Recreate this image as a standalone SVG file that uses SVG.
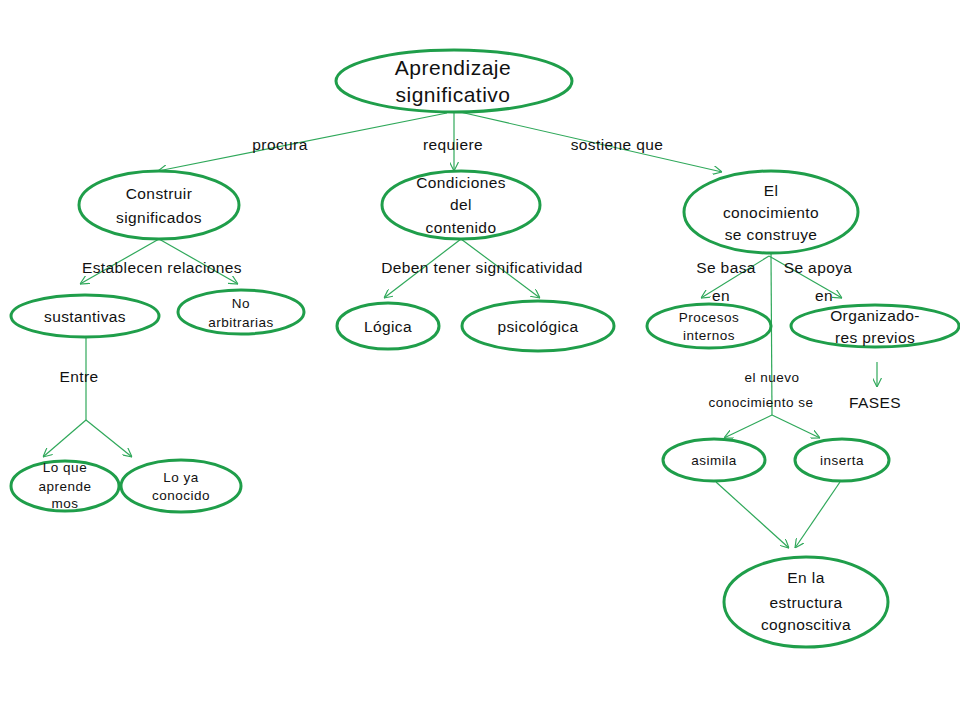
<svg xmlns="http://www.w3.org/2000/svg" width="960" height="720" viewBox="0 0 960 720">
<defs>
<marker id="arr" viewBox="0 0 10 10" refX="10" refY="5" markerWidth="9" markerHeight="9" markerUnits="userSpaceOnUse" orient="auto">
<path d="M0,0 L10,5 L0,10" fill="none" stroke="#2fa85a" stroke-width="1.3"/>
</marker>
</defs>
<style>
.n{fill:#fff;stroke:#1f9e4a;stroke-width:3}
.c{stroke:#2fa85a;stroke-width:1.2;fill:none}
.a{marker-end:url(#arr)}
text{font-family:"Liberation Sans",Arial,sans-serif;fill:#111;text-anchor:middle}
.f20{font-size:21px;letter-spacing:0.5px}
.f15{font-size:15.5px;letter-spacing:0.4px}
.f12{font-size:13.5px;letter-spacing:0.5px}
</style>
<rect width="960" height="720" fill="#fff"/>
<g id="connectors">
<line class="c a" x1="447" y1="113" x2="158" y2="171"/>
<line class="c a" x1="454" y1="112" x2="454" y2="171"/>
<line class="c a" x1="460" y1="112" x2="722" y2="172"/>
<line class="c a" x1="159" y1="239" x2="80" y2="284"/>
<line class="c a" x1="159" y1="239" x2="238" y2="284"/>
<line class="c a" x1="461" y1="239" x2="384" y2="298"/>
<line class="c a" x1="461" y1="239" x2="540" y2="298"/>
<line class="c a" x1="769" y1="256" x2="701" y2="298"/>
<line class="c a" x1="769" y1="256" x2="842" y2="298"/>
<line class="c" x1="771" y1="253" x2="772" y2="415"/>
<line class="c a" x1="772" y1="415" x2="724" y2="438"/>
<line class="c a" x1="772" y1="415" x2="820" y2="438"/>
<line class="c a" x1="877" y1="362" x2="877" y2="387"/>
<line class="c a" x1="716" y1="482" x2="789" y2="548"/>
<line class="c a" x1="840" y1="482" x2="795" y2="548"/>
<line class="c" x1="86" y1="338" x2="86" y2="420"/>
<line class="c a" x1="86" y1="420" x2="43" y2="457"/>
<line class="c a" x1="86" y1="420" x2="132" y2="457"/>
</g>
<g id="labels">
<text class="f15" x="280" y="150">procura</text>
<text class="f15" x="453" y="150">requiere</text>
<text class="f15" x="617" y="150">sostiene que</text>
<text class="f15" x="162" y="273">Establecen relaciones</text>
<text class="f15" x="482" y="273">Deben tener significatividad</text>
<text class="f15" x="726" y="273">Se basa</text>
<text class="f15" x="818" y="273">Se apoya</text>
<text class="f15" x="721" y="301">en</text>
<text class="f15" x="824" y="301">en</text>
<text class="f15" x="79" y="382">Entre</text>
<text class="f12" x="772" y="382">el nuevo</text>
<text class="f12" x="761" y="407">conocimiento se</text>
<text class="f15" x="875" y="408">FASES</text>
</g>
<g id="n-aprendizaje">
<ellipse class="n" cx="454" cy="81" rx="118" ry="31"/>
<text class="f20" x="453" y="75">Aprendizaje</text>
<text class="f20" x="453" y="102">significativo</text>
</g>
<g id="n-construir">
<ellipse class="n" cx="159" cy="205" rx="80" ry="34"/>
<text class="f15" x="159" y="199">Construir</text>
<text class="f15" x="159" y="223">significados</text>
</g>
<g id="n-condiciones">
<ellipse class="n" cx="461" cy="205" rx="79" ry="34"/>
<text class="f15" x="461" y="188">Condiciones</text>
<text class="f15" x="461" y="210">del</text>
<text class="f15" x="461" y="233">contenido</text>
</g>
<g id="n-conocimiento">
<ellipse class="n" cx="771" cy="212" rx="87" ry="41"/>
<text class="f15" x="771" y="196">El</text>
<text class="f15" x="771" y="218">conocimiento</text>
<text class="f15" x="771" y="240">se construye</text>
</g>
<g id="n-sustantivas">
<ellipse class="n" cx="85" cy="316" rx="74" ry="21"/>
<text class="f15" x="85" y="322">sustantivas</text>
</g>
<g id="n-noarbitrarias">
<ellipse class="n" cx="241" cy="312" rx="63" ry="22"/>
<text class="f12" x="241" y="308">No</text>
<text class="f12" x="241" y="327">arbitrarias</text>
</g>
<g id="n-logica">
<ellipse class="n" cx="388" cy="326" rx="51" ry="23"/>
<text class="f15" x="388" y="332">Lógica</text>
</g>
<g id="n-psicologica">
<ellipse class="n" cx="538" cy="326" rx="76" ry="25"/>
<text class="f15" x="538" y="332">psicológica</text>
</g>
<g id="n-procesos">
<ellipse class="n" cx="709" cy="326" rx="62" ry="22"/>
<text class="f12" x="709" y="322">Procesos</text>
<text class="f12" x="709" y="340">internos</text>
</g>
<g id="n-organizadores">
<ellipse class="n" cx="875" cy="326" rx="84" ry="21"/>
<text class="f15" x="875" y="321">Organizado-</text>
<text class="f15" x="875" y="343">res previos</text>
</g>
<g id="n-loque">
<ellipse class="n" cx="65" cy="486" rx="54" ry="25"/>
<text class="f12" x="65" y="472">Lo que</text>
<text class="f12" x="65" y="491">aprende</text>
<text class="f12" x="65" y="508">mos</text>
</g>
<g id="n-loya">
<ellipse class="n" cx="181" cy="486" rx="60" ry="26"/>
<text class="f12" x="181" y="482">Lo ya</text>
<text class="f12" x="181" y="500">conocido</text>
</g>
<g id="n-asimila">
<ellipse class="n" cx="714" cy="460" rx="51" ry="21"/>
<text class="f12" x="714" y="465">asimila</text>
</g>
<g id="n-inserta">
<ellipse class="n" cx="842" cy="460" rx="47" ry="21"/>
<text class="f12" x="842" y="465">inserta</text>
</g>
<g id="n-estructura">
<ellipse class="n" cx="806" cy="602" rx="82" ry="45"/>
<text class="f15" x="806" y="583">En la</text>
<text class="f15" x="806" y="608">estructura</text>
<text class="f15" x="806" y="630">cognoscitiva</text>
</g>
</svg>
